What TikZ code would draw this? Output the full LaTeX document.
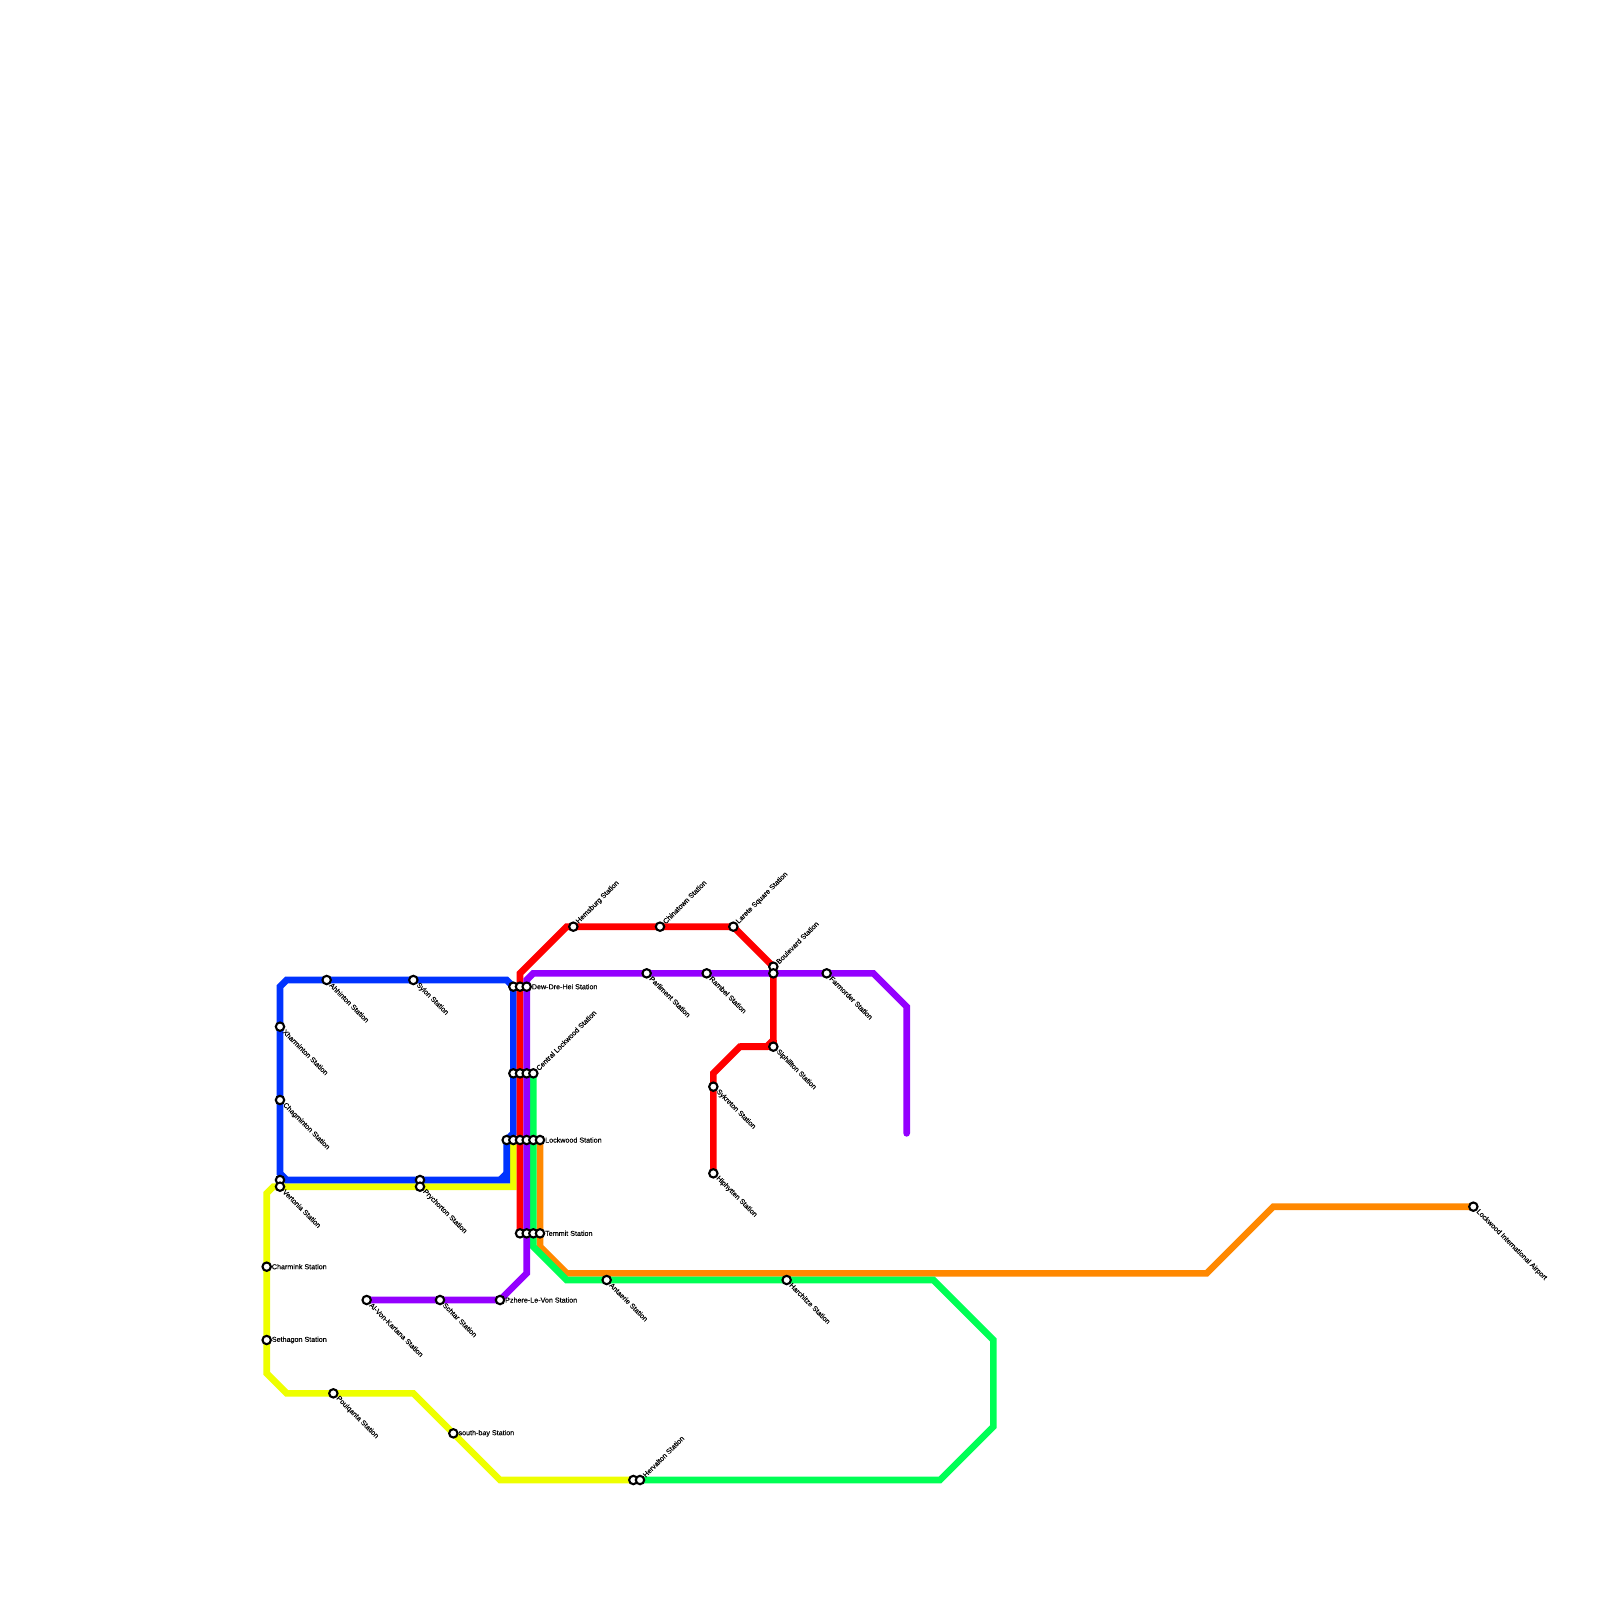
\documentclass[tikz,border=0pt]{standalone}
\usepackage{fontspec}
\setmainfont[AutoFakeBold=0.25]{Liberation Sans}
\pgfdeclarelayer{background}
\pgfsetlayers{background,main}
\tikzset{
  station/.style={circle,draw=black,fill=white,line width=2.1pt,minimum size=8.4pt,inner sep=0pt},
  stnlabel/.style={font=\fontsize{7.15}{8}\selectfont\bfseries,text=black,inner sep=0pt},
  metro/.style={line width=6.67pt,miter limit=10,line join=miter},
  lblue/.style={metro,draw={rgb,255:red,0;green,51;blue,255}},
  lred/.style={metro,draw={rgb,255:red,255;green,0;blue,0}},
  lpurple/.style={metro,draw={rgb,255:red,148;green,0;blue,255}},
  lgreen/.style={metro,draw={rgb,255:red,0;green,255;blue,85}},
  lorange/.style={metro,draw={rgb,255:red,255;green,136;blue,0}},
  lyellow/.style={metro,draw={rgb,255:red,238;green,255;blue,0}},
}
% station only
\newcommand{\stn}[3]{\node[station] (#1) at (#2,#3) {};}
% station with label: right, down-right, up-right
\newcommand{\stnR}[4]{\stn{#1}{#2}{#3}\node[stnlabel,anchor=west,xshift=5pt] (#1t) at (#1.center) {#4};}
\newcommand{\stnD}[4]{\stn{#1}{#2}{#3}\node[stnlabel,anchor=west,rotate=-45,xshift=5.6pt] (#1t) at (#1.center) {#4};}
\newcommand{\stnU}[4]{\stn{#1}{#2}{#3}\node[stnlabel,anchor=west,rotate=45,xshift=5.6pt] (#1t) at (#1.center) {#4};}
\begin{document}
\begin{tikzpicture}[x=6.6667pt,y=-6.6667pt]
\path[use as bounding box] (0,0) rectangle (240,240);
% stations
\stnD{ahh}{49}{147}{Ahhinton Station}
\stnD{syl}{62}{147}{Sylon Station}
\stnD{xha}{42}{154}{Xharminton Station}
\stnD{cha}{42}{165}{Chagminton Station}
\stn{vertb}{42}{177}
\stnD{ver}{42}{178}{Vertonia Station}
\stn{pryb}{63}{177}
\stnD{pry}{63}{178}{Prychorton Station}
\stn{dewa}{77}{148}
\stn{dewb}{78}{148}
\stnR{dew}{79}{148}{Dew-Dre-Hei Station}
\stn{cena}{77}{161}
\stn{cenb}{78}{161}
\stn{cenc}{79}{161}
\stnU{cen}{80}{161}{Central Lockwood Station}
\stn{loca}{76}{171}
\stn{locb}{77}{171}
\stn{locc}{78}{171}
\stn{locd}{79}{171}
\stn{loce}{80}{171}
\stnR{loc}{81}{171}{Lockwood Station}
\stn{tema}{78}{185}
\stn{temb}{79}{185}
\stn{temc}{80}{185}
\stnR{tem}{81}{185}{Temmit Station}
\stnU{hem}{86}{139}{Hemsburg Station}
\stnU{chi}{99}{139}{Chinatown Station}
\stnU{lar}{110}{139}{Larete Square Station}
\stnU{bou}{116}{145}{Boulevard Station}
\stn{boub}{116}{146}
\stnD{par}{97}{146}{Parliment Station}
\stnD{ram}{106}{146}{Rambel Station}
\stnD{far}{124}{146}{Farmorder Station}
\stnD{sip}{116}{157}{Siphillton Station}
\stnD{syk}{107}{163}{Sykreton Station}
\stnD{hip}{107}{176}{Hiphytten Station}
\stnD{alv}{55}{195}{Al-Von-Kartana Station}
\stnD{sch}{66}{195}{Schtar Station}
\stnR{pzh}{75}{195}{Pzhere-Le-Von Station}
\stnR{cmk}{40}{190}{Charmink Station}
\stnR{set}{40}{201}{Sethagon Station}
\stnD{pou}{50}{209}{Poulqanta Station}
\stnR{sou}{68}{215}{south-bay Station}
\stn{hera}{95}{222}
\stnU{her}{96}{222}{Hervalton Station}
\stnD{ant}{91}{192}{Antaerie Station}
\stnD{har}{118}{192}{Harchitze Station}
\stnD{air}{221}{181}{Lockwood International Airport}
% bends
\coordinate (b1) at (76,147); \coordinate (b2) at (43,147); \coordinate (b3) at (42,148);
\coordinate (b4) at (42,176); \coordinate (b5) at (43,177); \coordinate (b6) at (76,177);
\coordinate (b7) at (77,170); \coordinate (b8) at (75,177); \coordinate (b9) at (76,176);
\coordinate (y1) at (77,178); \coordinate (y2) at (41,178); \coordinate (y3) at (40,179);
\coordinate (y4) at (40,206); \coordinate (y5) at (43,209); \coordinate (y6) at (62,209);
\coordinate (y7) at (75,222);
\coordinate (r1) at (78,146); \coordinate (r2) at (85,139); \coordinate (r3) at (116,156);
\coordinate (r4) at (115,157); \coordinate (r5) at (111,157); \coordinate (r6) at (107,161);
\coordinate (p1) at (80,146); \coordinate (p2) at (79,147); \coordinate (p3) at (79,191);
\coordinate (p4) at (131,146); \coordinate (p5) at (136,151); \coordinate (p6) at (136,170);
\coordinate (g1) at (80,187); \coordinate (g2) at (85,192); \coordinate (g3) at (140,192);
\coordinate (g4) at (149,201); \coordinate (g5) at (149,214); \coordinate (g6) at (141,222);
\coordinate (o1) at (81,187); \coordinate (o2) at (85,191); \coordinate (o3) at (181,191);
\coordinate (o4) at (191,181);
\begin{pgfonlayer}{background}
\fill[white] (0,0) rectangle (240,240);
\draw[lyellow] (locb.center) -- (y1) -- (y2) -- (y3) -- (y4) -- (y5) -- (y6) -- (y7) -- (hera.center);
\draw[lblue] (dewa.center) -- (b1) -- (b2) -- (b3) -- (b4) -- (b5) -- (b6) -- (loca.center) -- (b7) -- cycle;
\draw[lblue] (b8) -- (b9);
\draw[lorange] (loc.center) -- (o1) -- (o2) -- (o3) -- (o4) -- (air.center);
\draw[lgreen] (cen.center) -- (g1) -- (g2) -- (g3) -- (g4) -- (g5) -- (g6) -- (her.center);
\draw[lred] (tema.center) -- (r1) -- (r2) -- (lar.center) -- (bou.center) -- (r3) -- (r4) -- (r5) -- (r6) -- (hip.center);
\draw[lred] (r5) -- (sip.center) -- (r3);
\draw[lpurple,line cap=round] (p6) -- (p5) -- (p4) -- (p1) -- (p2) -- (p3) -- (pzh.center) -- (alv.center);
\end{pgfonlayer}
\end{tikzpicture}
\end{document}
